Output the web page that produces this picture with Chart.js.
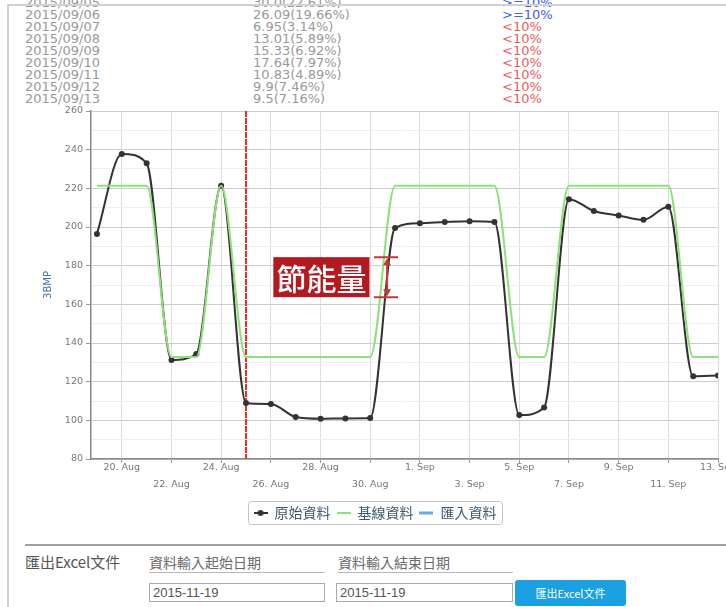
<!DOCTYPE html>
<html>
<head>
<meta charset="utf-8">
<title>節能量</title>
<script src="https://cdn.jsdelivr.net/npm/chart.js@4.4.1/dist/chart.umd.min.js"></script>
<style>
  html, body { margin: 0; padding: 0; background: #fff; }
  body { position: relative; width: 726px; height: 607px; overflow: hidden; font-family: 'DejaVu Sans', 'Noto Sans CJK TC', sans-serif; }
  #rows { position: absolute; left: 0; top: -3px; font-size: 13px; line-height: 12px; color: #999; }
  .row { position: relative; height: 12px; width: 726px; }
  .row span { position: absolute; top: 0; white-space: nowrap; }
  #frame { position: absolute; left: 7px; top: 4px; right: -4px; bottom: -4px; border-left: 2px solid #d2d2d2; border-top: 2px solid #d2d2d2; pointer-events: none; }
  #graph { position: absolute; left: 0; top: 100px; }
  .abs { position: absolute; white-space: nowrap; }
  #sep { left: 25px; top: 544px; width: 701px; height: 2px; background: #a0a0a0; }
  .lbl { top: 553px; font-family: 'Noto Sans CJK TC', sans-serif; font-size: 14px; color: #6a6a6a; line-height: 18px; }
  .uline { top: 572px; height: 1px; background: #b8b8b8; }
  .inp { top: 583px; height: 19px; box-sizing: border-box; border: 1px solid #aaa; font-size: 13px; color: #555; line-height: 17px; padding-left: 3px; font-family: 'Liberation Sans', sans-serif; }
  #btn { left: 515px; top: 580px; width: 111px; height: 26px; background: #1ba0e1; border-radius: 3px; color: #fff; font-size: 11px; line-height: 26px; text-align: center; font-family: 'Noto Sans CJK TC', sans-serif; }
</style>
</head>
<body>
<div id="rows"></div>
<canvas id="graph" width="726" height="430"></canvas>
<div class="abs" id="sep"></div>
<div class="abs lbl" style="left:25px;font-size:15px;color:#555;">匯出Excel文件</div>
<div class="abs lbl" style="left:149px;">資料輸入起始日期</div>
<div class="abs uline" style="left:149px;width:176px;"></div>
<div class="abs lbl" style="left:338px;">資料輸入結束日期</div>
<div class="abs uline" style="left:338px;width:175px;"></div>
<div class="abs inp" style="left:149px;width:176px;">2015-11-19</div>
<div class="abs inp" style="left:336px;width:177px;">2015-11-19</div>
<div class="abs" id="btn">匯出Excel文件</div>
<div id="frame"></div>
<script>
// table rows above the chart (first row is scrolled under the frame)
const tableDates = ['2015/09/05', '2015/09/06', '2015/09/07', '2015/09/08', '2015/09/09', '2015/09/10', '2015/09/11', '2015/09/12', '2015/09/13'];
const tableSavings = ['30.0(22.61%)', '26.09(19.66%)', '6.95(3.14%)', '13.01(5.89%)', '15.33(6.92%)', '17.64(7.97%)', '10.83(4.89%)', '9.9(7.46%)', '9.5(7.16%)'];
const tableFlags = ['>=10%', '>=10%', '<10%', '<10%', '<10%', '<10%', '<10%', '<10%', '<10%'];

// daily values, 2015/08/19 .. 2015/09/13
const dayLabels = ['2015/08/19', '2015/08/20', '2015/08/21', '2015/08/22', '2015/08/23', '2015/08/24', '2015/08/25',
    '2015/08/26', '2015/08/27', '2015/08/28', '2015/08/29', '2015/08/30', '2015/08/31', '2015/09/01',
    '2015/09/02', '2015/09/03', '2015/09/04', '2015/09/05', '2015/09/06', '2015/09/07', '2015/09/08',
    '2015/09/09', '2015/09/10', '2015/09/11', '2015/09/12', '2015/09/13'];
const rawValues = [196.4, 237.8, 233.0, 131.2, 134.3, 221.3, 109.0, 108.5, 101.7, 100.8, 101.0, 101.2, 199.5,
    202.0, 202.6, 203.0, 202.6, 102.7, 106.6, 214.4, 208.3, 206.0, 203.7, 210.5, 122.8, 123.2];
const baselineValues = [221.3, 221.3, 221.3, 132.7, 132.7, 221.3, 132.7, 132.7, 132.7, 132.7, 132.7, 132.7, 221.3,
    221.3, 221.3, 221.3, 221.3, 132.7, 132.7, 221.3, 221.3, 221.3, 221.3, 221.3, 132.7, 132.7];
const importValues = [];
const seriesNames = ['原始資料', '基線資料', '匯入資料'];

// x axis ticks (day index into dayLabels) and their labels
const tickDays = [1, 3, 5, 7, 9, 11, 13, 15, 17, 19, 21, 23, 25];
const tickLabels = ['20. Aug', '22. Aug', '24. Aug', '26. Aug', '28. Aug', '30. Aug', '1. Sep', '3. Sep',
    '5. Sep', '7. Sep', '9. Sep', '11. Sep', '13. Sep'];
const markerDay = 6; // red line on 2015/08/25
const noteText = '節能量';

// build the table
const rows = document.getElementById('rows');
for (let i = 0; i < tableDates.length; i++) {
    const r = document.createElement('div');
    r.className = 'row';
    const flagColor = tableFlags[i] == '>=10%' ? '#4560e8' : '#f05a60';
    r.innerHTML = `<span style="left:25px">${tableDates[i]}</span>` +
        `<span style="left:253px">${tableSavings[i]}</span>` +
        `<span style="left:502px;color:${flagColor}">${tableFlags[i].replace('<', '&lt;').replace('>', '&gt;')}</span>`;
    rows.appendChild(r);
}

// small legend symbols
function legendIcon(color, dot, width) {
    const c = document.createElement('canvas');
    c.width = 14;
    c.height = 8;
    const g = c.getContext('2d');
    g.strokeStyle = color;
    g.lineWidth = width;
    g.beginPath();
    g.moveTo(0, 4);
    g.lineTo(14, 4);
    g.stroke();
    if (dot) {
        g.fillStyle = color;
        g.beginPath();
        g.arc(7, 4, 3, 0, Math.PI * 2);
        g.fill();
    }
    return c;
}
const icons = [legendIcon('#333', true, 2), legendIcon('#8ee07a', false, 2), legendIcon('#6aa8e0', false, 3)];

const yTicks = [];
for (let v = 80; v <= 260; v += 5) yTicks.push(v);

// red marker line, savings note and legend frame
const extras = {
    id: 'extras',
    afterLayout(chart) {
        chart.legend.left += 16;
        chart.legend.right += 16;
    },
    beforeDatasetsDraw(chart) {
        const ctx = chart.ctx;
        const x = chart.scales.x.getPixelForValue(markerDay);
        ctx.save();
        ctx.strokeStyle = '#e8302a';
        ctx.lineWidth = 2;
        ctx.setLineDash([6, 1]);
        ctx.beginPath();
        ctx.moveTo(x, chart.chartArea.top);
        ctx.lineTo(x, chart.chartArea.bottom);
        ctx.stroke();
        ctx.restore();
    },
    afterDraw(chart) {
        const ctx = chart.ctx;
        const xs = chart.scales.x, ys = chart.scales.y;
        // note box
        const bx0 = xs.getPixelForValue(7.1), bx1 = xs.getPixelForValue(10.97);
        const by0 = ys.getPixelForValue(184.4), by1 = ys.getPixelForValue(163.7);
        ctx.save();
        ctx.fillStyle = '#b3191f';
        ctx.fillRect(bx0, by0, bx1 - bx0, by1 - by0);
        ctx.fillStyle = '#fff';
        ctx.font = '500 30px "Noto Sans CJK TC"';
        ctx.textAlign = 'center';
        ctx.textBaseline = 'middle';
        ctx.fillText(noteText, (bx0 + bx1) / 2, (by0 + by1) / 2 + 1);
        // dimension arrow
        const ax = xs.getPixelForValue(11.68);
        const c0 = xs.getPixelForValue(11.15), c1 = xs.getPixelForValue(12.12);
        ctx.strokeStyle = '#c43a3a';
        ctx.fillStyle = '#c43a3a';
        ctx.lineWidth = 2;
        ctx.beginPath();
        ctx.moveTo(c0, by0); ctx.lineTo(c1, by0);
        ctx.moveTo(c0, by1); ctx.lineTo(c1, by1);
        ctx.moveTo(ax, by0 + 6); ctx.lineTo(ax, by1 - 6);
        ctx.stroke();
        ctx.beginPath();
        ctx.moveTo(ax, by0 + 1); ctx.lineTo(ax - 4, by0 + 8); ctx.lineTo(ax + 4, by0 + 8); ctx.closePath();
        ctx.moveTo(ax, by1 - 1); ctx.lineTo(ax - 4, by1 - 8); ctx.lineTo(ax + 4, by1 - 8); ctx.closePath();
        ctx.fill();
        // legend frame
        const lg = chart.legend;
        const pad = lg.options.labels.padding;
        const lx = (lg.left + pad + lg.right - lg.lineWidths[0]) / 2;
        const lw = lg.lineWidths[0] - pad;
        const ly = lg.top + pad;
        ctx.strokeStyle = '#c4c4c4';
        ctx.lineWidth = 1;
        ctx.beginPath();
        ctx.roundRect(Math.round(lx - 6) + 0.5, Math.round(ly - 5) + 0.5, Math.round(lw + 11), 23, 3);
        ctx.stroke();
        ctx.restore();
    }
};

const ctx = document.getElementById('graph').getContext('2d');
const graph = new Chart(ctx, {
    type: 'line',
    data: {
        datasets: [{
            label: seriesNames[0],
            data: rawValues.map((v, i) => ({x: i, y: v})),
            borderColor: '#333',
            backgroundColor: '#333',
            borderWidth: 2,
            pointRadius: 3,
            pointBorderWidth: 0,
            cubicInterpolationMode: 'monotone',
            order: 1
        }, {
            label: seriesNames[1],
            data: baselineValues.map((v, i) => ({x: i, y: v})),
            borderColor: '#8ee07a',
            backgroundColor: '#8ee07a',
            borderWidth: 2,
            pointRadius: 0,
            cubicInterpolationMode: 'monotone',
            order: 0
        }, {
            label: seriesNames[2],
            data: importValues.map((v, i) => ({x: i, y: v})),
            borderColor: '#6aa8e0',
            backgroundColor: '#6aa8e0',
            borderWidth: 2,
            pointRadius: 0,
            order: 2
        }]
    },
    options: {
        responsive: false,
        animation: false,
        layout: {padding: {top: 11, right: 8, left: 0, bottom: 0}},
        scales: {
            x: {
                type: 'linear',
                min: -0.24,
                max: 25,
                afterBuildTicks: function(scale) {
                    scale.ticks = tickDays.map(v => ({value: v}));
                },
                afterFit: function(scale) {
                    scale.height = 41;
                    scale.paddingLeft = 0;
                    scale.paddingRight = 0;
                },
                ticks: {
                    autoSkip: false,
                    maxRotation: 0,
                    padding: 0,
                    color: '#777',
                    font: {family: 'DejaVu Sans', size: 9.5, lineHeight: 0.9},
                    callback: function(value, index) {
                        return index % 2 == 0 ? [tickLabels[index]] : ['', '', tickLabels[index]];
                    }
                },
                grid: {color: '#dedede', tickLength: 4, tickColor: '#999'},
                border: {color: '#888', width: 1.5}
            },
            y: {
                min: 80,
                max: 260,
                afterBuildTicks: function(scale) {
                    scale.ticks = yTicks.map(v => ({value: v}));
                },
                afterFit: function(scale) {
                    scale.width = 91;
                    scale.paddingTop = 0;
                    scale.paddingBottom = 0;
                },
                ticks: {
                    padding: 3,
                    color: '#777',
                    font: {family: 'DejaVu Sans', size: 9.5},
                    callback: v => v % 20 == 0 ? String(v) : ''
                },
                grid: {
                    tickLength: 5,
                    color: c => c.tick.value % 20 == 0 ? '#cdcdcd' : '#efefef',
                    tickColor: c => c.tick.value % 20 == 0 ? '#999' : 'rgba(0,0,0,0)'
                },
                border: {color: '#888', width: 1.5},
                title: {
                    display: true,
                    text: '3BMP',
                    color: '#4572a7',
                    font: {family: 'DejaVu Sans', size: 10},
                    padding: {top: 42, bottom: 0}
                }
            }
        },
        plugins: {
            tooltip: {enabled: false},
            legend: {
                position: 'bottom',
                labels: {
                    usePointStyle: true,
                    pointStyleWidth: 14,
                    padding: 6,
                    color: '#3e576f',
                    font: {family: 'Noto Sans CJK TC', size: 14},
                    sort: (a, b) => a.datasetIndex - b.datasetIndex,
                    generateLabels: function(chart) {
                        const items = Chart.defaults.plugins.legend.labels.generateLabels(chart);
                        items.forEach(it => { it.pointStyle = icons[it.datasetIndex]; });
                        return items;
                    }
                }
            }
        }
    },
    plugins: [extras]
});
</script>
</body>
</html>
